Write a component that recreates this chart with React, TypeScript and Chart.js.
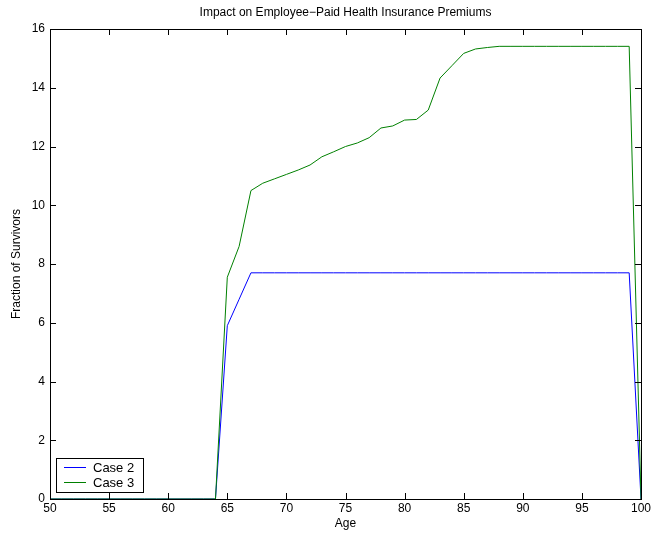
import React, { useEffect, useRef } from "react";
import { Chart, registerables } from "chart.js";

Chart.register(...registerables);

const ages: number[] = [];
for (let a = 50; a <= 100; a++) ages.push(a);

const case2Values: number[] = [
  0, 0, 0, 0, 0, 0, 0, 0, 0, 0, 0, 0, 0, 0, 0, // 50-64
  5.9, 6.8, 7.7, 7.7, 7.7, 7.7, 7.7, 7.7, 7.7, 7.7, // 65-74
  7.7, 7.7, 7.7, 7.7, 7.7, 7.7, 7.7, 7.7, 7.7, 7.7, // 75-84
  7.7, 7.7, 7.7, 7.7, 7.7, 7.7, 7.7, 7.7, 7.7, 7.7, // 85-94
  7.7, 7.7, 7.7, 7.7, 7.7, // 95-99
  0, // 100
];

const case3Values: number[] = [
  0, 0, 0, 0, 0, 0, 0, 0, 0, 0, 0, 0, 0, 0, 0, // 50-64
  7.55, 8.6, 10.5, 10.75, 10.9, 11.05, 11.2, 11.37, 11.65, 11.82, // 65-74
  12.0, 12.12, 12.3, 12.63, 12.7, 12.9, 12.92, 13.24, 14.33, 14.75, // 75-84
  15.17, 15.32, 15.37, 15.41, 15.41, 15.41, 15.41, 15.41, 15.41, 15.41, // 85-94
  15.41, 15.41, 15.41, 15.41, 15.41, // 95-99
  0, // 100
];

const seriesLabels = ["Case 2", "Case 3"];
const seriesColors = ["#0000ff", "#008000"];
const chartTitle = "Impact on Employee\u2212Paid Health Insurance Premiums";
const xTitle = "Age";
const yTitle = "Fraction of Survivors";

const FONT = "'Liberation Sans', Arial, Helvetica, sans-serif";

const matlabPlugin = {
  id: "matlabDecor",
  afterDraw(chart: any) {
    const { ctx, chartArea } = chart;
    const { left, right, top, bottom } = chartArea;
    const xs = chart.scales.x;
    const ys = chart.scales.y;
    ctx.save();
    ctx.strokeStyle = "#000";
    ctx.lineWidth = 1;
    ctx.strokeRect(Math.round(left) + 0.5, Math.round(top) + 0.5, Math.round(right - left), Math.round(bottom - top));
    const tl = 6;
    ctx.beginPath();
    xs.ticks.forEach((t: any) => {
      const px = Math.round(xs.getPixelForValue(t.value)) + 0.5;
      ctx.moveTo(px, bottom);
      ctx.lineTo(px, bottom - tl);
      ctx.moveTo(px, top);
      ctx.lineTo(px, top + tl);
    });
    ys.ticks.forEach((t: any) => {
      const py = Math.round(ys.getPixelForValue(t.value)) + 0.5;
      ctx.moveTo(left, py);
      ctx.lineTo(left + tl, py);
      ctx.moveTo(right, py);
      ctx.lineTo(right - tl, py);
    });
    ctx.stroke();

    ctx.fillStyle = "#000";
    ctx.font = `12px ${FONT}`;
    ctx.textAlign = "center";
    ctx.textBaseline = "middle";
    ctx.fillText(chartTitle, (left + right) / 2, 13);
    ctx.fillText(xTitle, (left + right) / 2, 524);
    ctx.save();
    ctx.translate(17, (top + bottom) / 2);
    ctx.rotate(-Math.PI / 2);
    ctx.fillText(yTitle, 0, 0);
    ctx.restore();

    // Legend
    const lx = 56.5, ly = 458.5, lw = 87, lh = 34;
    ctx.fillStyle = "#fff";
    ctx.fillRect(lx, ly, lw, lh);
    ctx.strokeStyle = "#000";
    ctx.lineWidth = 1;
    ctx.strokeRect(lx, ly, lw, lh);
    ctx.textAlign = "left";
    ctx.font = `13px ${FONT}`;
    seriesLabels.forEach((label, i) => {
      const cy = 467.5 + i * 15;
      ctx.strokeStyle = seriesColors[i];
      ctx.lineWidth = 1;
      ctx.beginPath();
      ctx.moveTo(64, cy);
      ctx.lineTo(86, cy);
      ctx.stroke();
      ctx.fillStyle = "#000";
      ctx.fillText(label, 93, cy + 0.5);
    });
    ctx.restore();
  },
};

export default function App() {
  const canvasRef = useRef<HTMLCanvasElement | null>(null);
  useEffect(() => {
    if (!canvasRef.current) return;
    const chart = new Chart(canvasRef.current, {
      type: "line",
      data: {
        labels: ages,
        datasets: seriesLabels.map((label, i) => ({
          label,
          data: ages.map((a, j) => ({ x: a, y: (i === 0 ? case2Values : case3Values)[j] })),
          borderColor: seriesColors[i],
          backgroundColor: seriesColors[i],
          borderWidth: 1,
          pointRadius: 0,
          tension: 0,
          fill: false,
          order: 1 - i,
        })),
      },
      options: {
        animation: false,
        responsive: false,
        maintainAspectRatio: false,
        layout: { padding: { top: 29, right: 24, left: 0, bottom: 0 } },
        plugins: {
          legend: { display: false },
          title: { display: false },
          tooltip: { enabled: false },
        },
        scales: {
          x: {
            type: "linear",
            min: 50,
            max: 100,
            ticks: { stepSize: 5, color: "#000", font: { family: FONT, size: 12 }, padding: 2 },
            grid: { display: false, drawTicks: false },
            border: { display: false },
            afterFit(scale: any) {
              scale.height = 37;
            },
          },
          y: {
            min: 0,
            max: 16,
            ticks: { stepSize: 2, color: "#000", font: { family: FONT, size: 12 }, padding: 5 },
            grid: { display: false, drawTicks: false },
            border: { display: false },
            afterFit(scale: any) {
              scale.width = 50;
            },
          },
        },
      },
      plugins: [matlabPlugin],
    } as any);
    return () => chart.destroy();
  }, []);
  return (
    <div style={{ position: "fixed", left: 0, top: 0, width: 665, height: 536, background: "#fff" }}>
      <canvas ref={canvasRef} width={665} height={536} style={{ display: "block", width: 665, height: 536 }} />
    </div>
  );
}
